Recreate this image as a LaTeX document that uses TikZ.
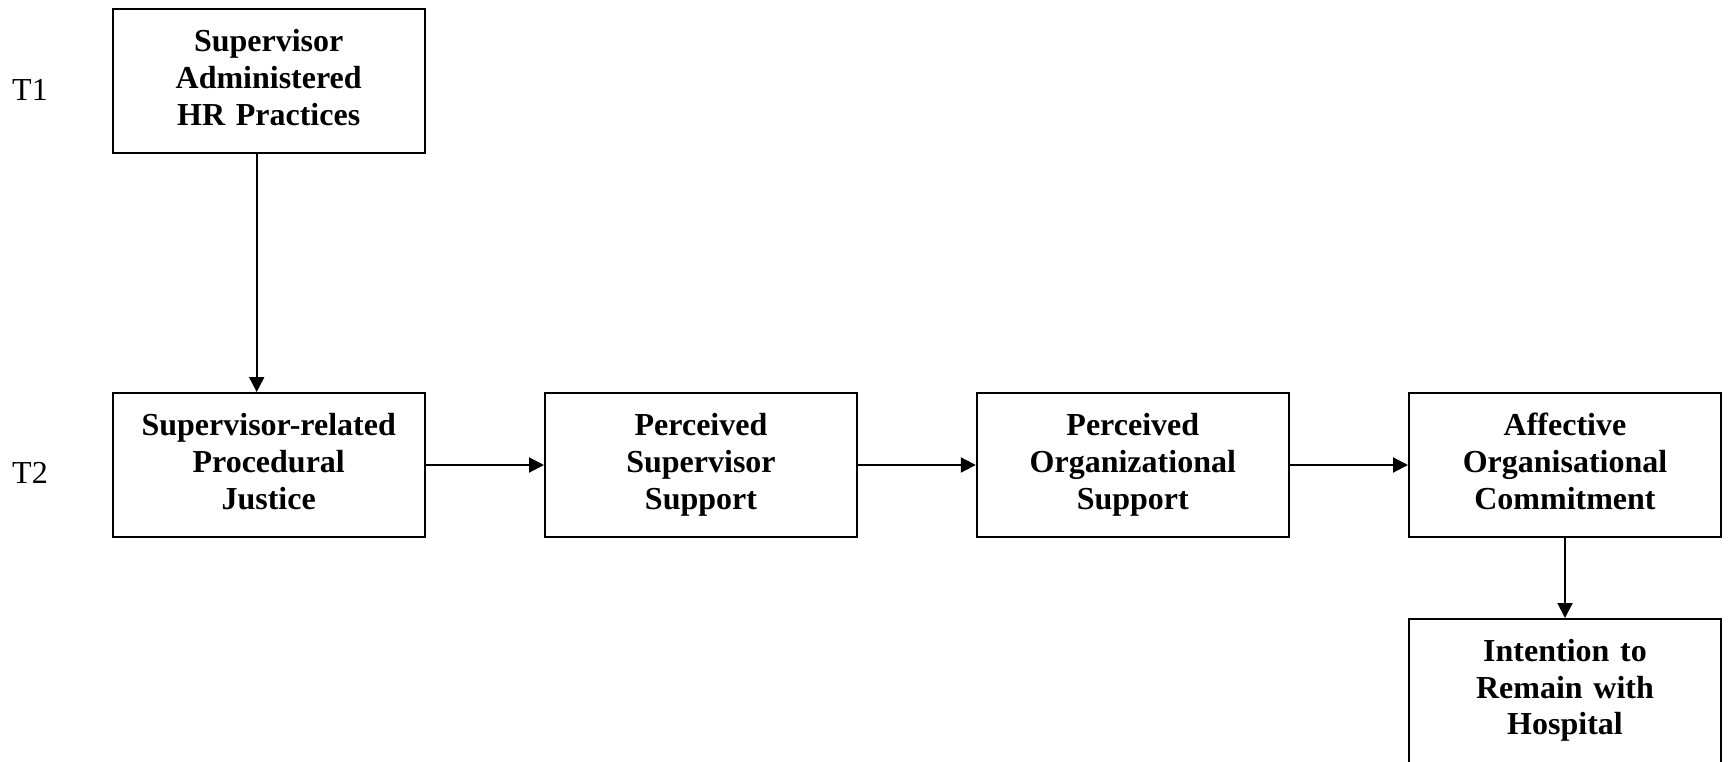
\documentclass[tikz,border=0pt]{standalone}
\usepackage{fontspec}
\setmainfont{Liberation Serif}
\usetikzlibrary{arrows.meta}
\newcommand{\topst}{\rule{0pt}{26pt}}
\newcommand{\botst}{\rule[-11.5pt]{0pt}{11.5pt}}
\newcommand{\botlong}{\rule[-25.5pt]{0pt}{25.5pt}}
\begin{document}
\begin{tikzpicture}[x=1pt,y=-1pt,
  box/.style={draw, line width=2pt, minimum width=312pt, minimum height=144pt, inner sep=0pt,
    text width=300pt, align=center, font=\fontsize{32}{36.8}\selectfont\bfseries},
  tlabel/.style={anchor=base, inner sep=0pt, font=\fontsize{32}{36.8}\selectfont},
  arr/.style={line width=2pt, -{Triangle[length=15pt,width=15pt]}}]
\useasboundingbox (0,0) rectangle (1730,761);
\node[box] (hr) at (268.7,81) {\topst Supervisor\\Administered\\HR Practices\botst};
\node[box] (pj) at (268.7,465) {\topst Supervisor-related\\Procedural\\Justice\botst};
\node[box] (pss) at (701,465) {\topst Perceived\\Supervisor\\Support\botst};
\node[box] (pos) at (1132.8,465) {\topst Perceived\\Organizational\\Support\botst};
\node[box] (aoc) at (1565,465) {\topst Affective\\Organisational\\Commitment\botst};
\node[box, minimum height=157.5pt] (itr) at (1565,697.75) {\topst Intention to\\Remain with\\Hospital\botlong};
\node[tlabel] (t1) at (30,100) {T1};
\node[tlabel] (t2) at (30,483) {T2};
\coordinate (a1) at (256.7,0);
\draw[arr] (hr.south -| a1) -- (pj.north -| a1);
\draw[arr] (pj) -- (pss);
\draw[arr] (pss) -- (pos);
\draw[arr] (pos) -- (aoc);
\draw[arr] (aoc) -- (itr);
\end{tikzpicture}
\end{document}
